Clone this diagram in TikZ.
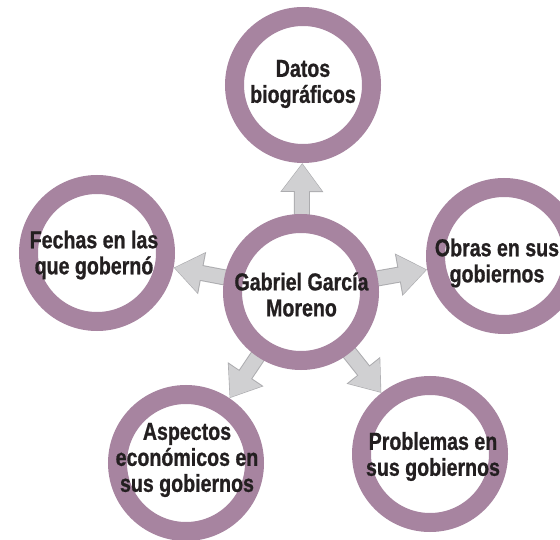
\documentclass[tikz,border=0pt]{standalone}
\usepackage{fontspec}
\newfontfamily\lblfont{Liberation Sans}[FakeStretch=0.8, BoldFeatures={FakeBold=0.8}]
\usetikzlibrary{arrows.meta,backgrounds}
\definecolor{ringcol}{RGB}{167,132,160}
\definecolor{arrowfill}{RGB}{208,208,210}
\definecolor{arrowedge}{RGB}{172,172,175}
\definecolor{ink}{RGB}{35,31,32}
\tikzset{
  ringnode/.style={circle, draw=ringcol, fill=white, line width=19pt, minimum size=137pt, inner sep=0pt},
  txt/.style={font=\lblfont\bfseries\fontsize{24.5}{26}\selectfont, text=ink, align=center, inner sep=0pt},
  conn/.style={draw=arrowfill, line width=14pt, -{Triangle[length=27pt,width=38pt]}, shorten >=1pt,
    preaction={draw=arrowedge, line width=16pt, -{Triangle[length=29pt,width=41pt]}, shorten >=0pt}}
}
\begin{document}
\begin{tikzpicture}[x=1pt,y=-1pt]
\useasboundingbox (0,0) rectangle (560,540);
% circles
\node[ringnode] (C) at (301,292) {};
\node[ringnode] (T) at (303,85) {};
\node[ringnode] (L) at (97,253) {};
\node[ringnode] (R) at (504,256) {};
\node[ringnode] (BL) at (186,463) {};
\node[ringnode] (BR) at (430,454) {};
% connectors
\begin{scope}[on background layer]
\fill[white] (0,0) rectangle (560,540);
\draw[conn] (C.center) -- (T);
\draw[conn] (C.center) -- (L);
\draw[conn] (C.center) -- (R);
\draw[conn] (C.center) -- (BL);
\draw[conn] (C.center) -- (BR);
\end{scope}
% texts
\node[txt] (Ct) at (301.5,294.5) {Gabriel García\\Moreno};
\node[txt] (Tt) at (303,84) {Datos\\biográficos};
\node[txt] (Lt) at (94,255) {Fechas en las\\que gobernó};
\node[txt] (Rt) at (497,263) {Obras en sus\\gobiernos};
\node[txt] (BRt) at (433,456.5) {Problemas en\\sus gobiernos};
\node[txt] (BLt) at (187,460) {Aspectos\\económicos en\\sus gobiernos};
\end{tikzpicture}
\end{document}
